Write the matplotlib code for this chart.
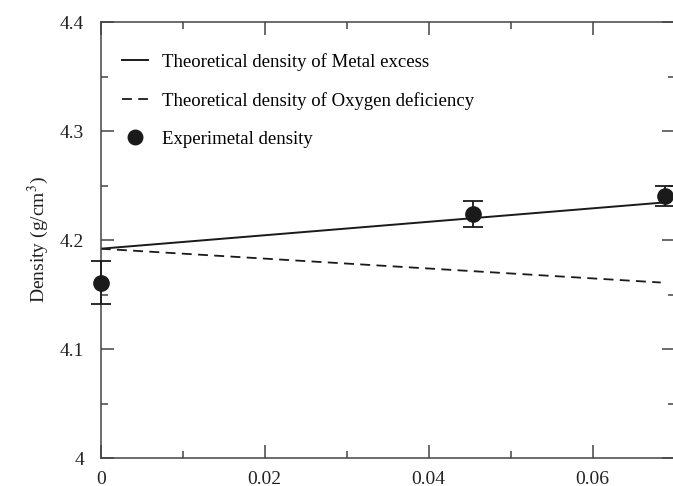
import numpy as np
import matplotlib
matplotlib.use('Agg')
from matplotlib import pyplot as plt
from matplotlib.ticker import MultipleLocator, FuncFormatter

# theoretical density lines (start / end points)
metal_x = [0.0, 0.0688]
metal_y = [4.192, 4.2345]
oxygen_x = [0.0, 0.0683]
oxygen_y = [4.192, 4.161]

# measured density with error bars
exp_x = [0.0, 0.04545, 0.0688]
exp_y = [4.161, 4.2235, 4.2405]
exp_err = [0.0195, 0.012, 0.0095]

plt.rcParams['font.family'] = 'Liberation Serif'
plt.rcParams['mathtext.fontset'] = 'stix'

fig = plt.figure(figsize=(6.73, 4.86), dpi=100)
ax = fig.add_axes([100.7 / 673, 28 / 486, 574 / 673, 436 / 486])

ax.plot(metal_x, metal_y, color='#1a1a1a', lw=1.4, ls='-',
        label='Theoretical density of Metal excess')
ax.plot(oxygen_x, oxygen_y, color='#1a1a1a', lw=1.3, ls=(0, (5.5, 3.5)),
        label='Theoretical density of Oxygen deficiency')
ax.errorbar(exp_x, exp_y, yerr=exp_err, fmt='none', ecolor='#1a1a1a',
            elinewidth=1.3, capsize=7, capthick=1.3, clip_on=False, zorder=3)
ax.plot(exp_x, exp_y, 'o', color='#1a1a1a', ms=11, ls='none',
        label='Experimetal density', clip_on=False, zorder=4)

ax.set_xlim(0, 0.07)
ax.set_ylim(4.0, 4.4)
ax.xaxis.set_major_locator(MultipleLocator(0.02))
ax.xaxis.set_minor_locator(MultipleLocator(0.01))
ax.yaxis.set_major_locator(MultipleLocator(0.1))
ax.yaxis.set_minor_locator(MultipleLocator(0.05))
fmt = FuncFormatter(lambda v, p: '%g' % round(v, 4))
ax.xaxis.set_major_formatter(fmt)
ax.yaxis.set_major_formatter(fmt)

ax.tick_params(which='both', direction='in', top=True, right=True,
               width=1.1, color='#444444', labelsize=14, labelcolor='#222222')
ax.tick_params(which='major', length=9.5)
ax.tick_params(which='minor', length=5)
ax.tick_params(axis='x', pad=9)
ax.tick_params(axis='y', pad=12)
for s in ax.spines.values():
    s.set_color('#444444')
    s.set_linewidth(1.1)

ax.set_ylabel('Density (g/cm$^3$)', fontsize=14, color='#222222', labelpad=6)

ax.legend(loc='upper left', bbox_to_anchor=(21 / 574, 1 - 31 / 436),
          borderaxespad=0, borderpad=0, frameon=False, fontsize=13.5,
          handlelength=1.4, handletextpad=0.75, labelspacing=1.12,
          markerscale=0.95)

fig.savefig('out.png', dpi=100)
